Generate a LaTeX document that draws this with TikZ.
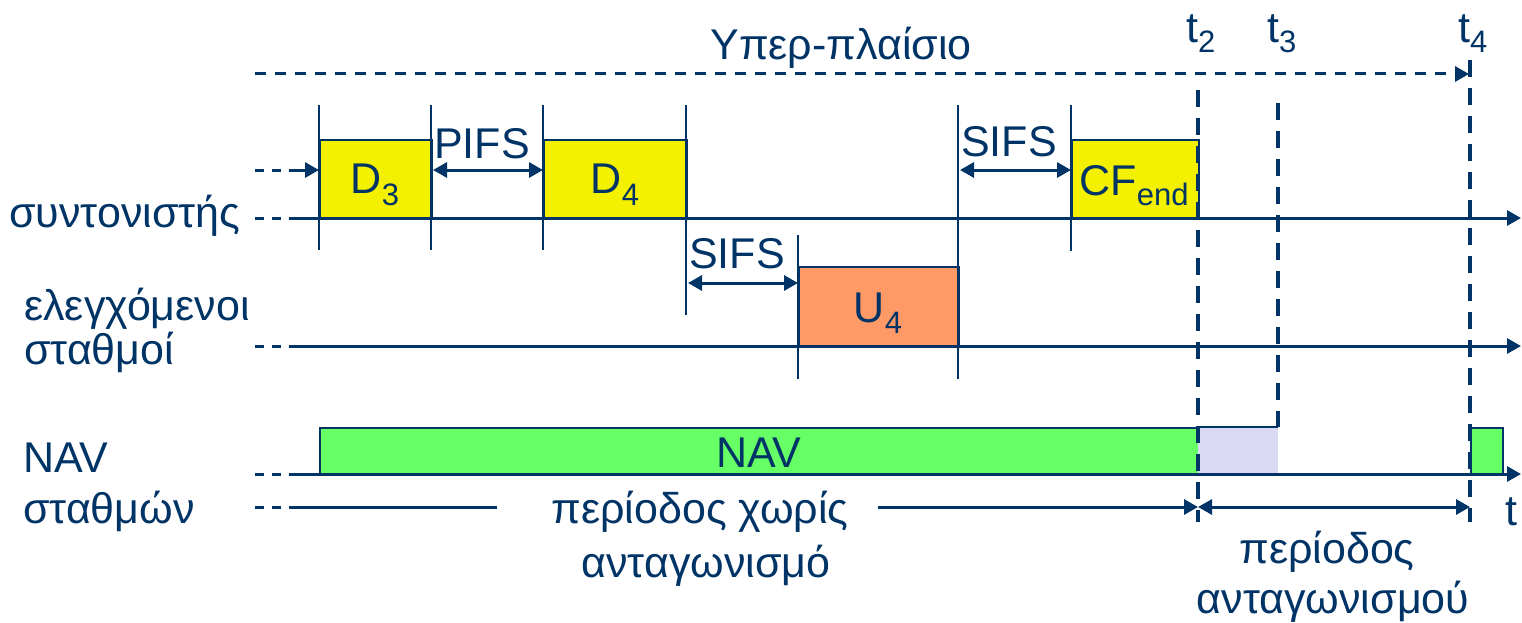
\documentclass[tikz,border=0pt]{standalone}
\usepackage{fontspec}
\setmainfont{Liberation Sans}
\usetikzlibrary{arrows.meta}
\definecolor{navy}{RGB}{0,51,102}
\definecolor{yel}{RGB}{243,240,0}
\definecolor{org}{RGB}{255,153,102}
\definecolor{grn}{RGB}{102,255,102}
\definecolor{lav}{RGB}{218,218,245}
\newcommand\sbs[2][-12pt]{\raisebox{#1}{\fontsize{31}{31}\selectfont #2}}
\begin{document}
\begin{tikzpicture}[x=1pt,y=-1pt,
  txt/.style={inner sep=0pt, text=navy, font=\fontsize{43}{50}\selectfont},
  hline/.style={draw=navy, line width=3pt},
  stubline/.style={draw=navy, line width=3pt, dash pattern=on 9pt off 8pt},
  tkline/.style={draw=navy, line width=2pt},
  vdash/.style={draw=navy, line width=4pt, dash pattern=on 17pt off 11pt},
  topdash/.style={draw=navy, line width=3pt, dash pattern=on 11pt off 9pt},
  arrtip/.style={-{Triangle[length=14pt,width=15pt]}},
  dblarr/.style={{Triangle[length=14pt,width=15pt]}-{Triangle[length=14pt,width=15pt]}},
  boxst/.style={draw=navy, line width=2pt, inner sep=0pt, anchor=north west}
]
\useasboundingbox (0,0) rectangle (1522,623);

% boxes
\node[boxst, fill=yel, minimum width=112pt, minimum height=79pt] (d3) at (319,139) {};
\node[boxst, fill=yel, minimum width=143pt, minimum height=79pt] (d4) at (543,139) {};
\node[boxst, fill=yel, minimum width=127pt, minimum height=79pt] (cf) at (1071,139) {};
\node[boxst, fill=org, minimum width=160pt, minimum height=80pt] (u4) at (798,266) {};
\node[boxst, fill=grn, minimum width=879pt, minimum height=47pt] (nav) at (319,427) {};
\fill[lav] (1198,427) rectangle (1278,474);
\draw[tkline] (1198,427) -- (1278,427);
\node[boxst, fill=grn, minimum width=32pt, minimum height=47pt] (nav2) at (1470,427) {};

% ticks
\draw[tkline] (319,105) -- (319,250);
\draw[tkline] (431,105) -- (431,250);
\draw[tkline] (543,105) -- (543,250);
\draw[tkline] (686,105) -- (686,315);
\draw[tkline] (798,235) -- (798,379);
\draw[tkline] (958,105) -- (958,379);
\draw[tkline] (1071,105) -- (1071,251);

% time lines
\coordinate (r1s) at (255,218); \coordinate (r1a) at (297,218); \coordinate (r1e) at (1521,218);
\coordinate (r2s) at (255,346); \coordinate (r2a) at (297,346); \coordinate (r2e) at (1521,346);
\coordinate (r3s) at (255,474); \coordinate (r3a) at (297,474); \coordinate (r3e) at (1521,474);
\draw[stubline] (r1s) -- (r1a);
\draw[hline, arrtip] (r1a) -- (r1e);
\draw[stubline] (r2s) -- (r2a);
\draw[hline, arrtip] (r2a) -- (r2e);
\draw[stubline] (r3s) -- (r3a);
\draw[hline, arrtip] (r3a) -- (r3e);

% entrance arrow to D3
\coordinate (ins) at (255,170); \coordinate (ina) at (297,170);
\draw[stubline] (ins) -- (ina);
\draw[hline, arrtip] (ina) -- (d3.west |- ina);

% interframe spaces
\coordinate (pifsy) at (0,170);
\draw[hline, dblarr] (d3.east |- pifsy) -- (d4.west |- pifsy);
\coordinate (sifsby) at (0,283);
\draw[hline, dblarr] (d4.east |- sifsby) -- (u4.west |- sifsby);
\draw[hline, dblarr] (u4.east |- pifsy) -- (cf.west |- pifsy);

% dashed verticals
\draw[vdash] (1198,90) -- (1198,522);
\draw[vdash] (1278,103) -- (1278,427);
\draw[vdash] (1470,60) -- (1470,522);

% superframe
\coordinate (sfs) at (255,74); \coordinate (sfe) at (1469,74);
\draw[topdash, arrtip] (sfs) -- (sfe);

% bottom period arrows
\coordinate (b0) at (255,507); \coordinate (b1) at (297,507); \coordinate (b2) at (497,507);
\coordinate (b3) at (878,507); \coordinate (b4) at (1198,507); \coordinate (b5) at (1470,507);
\draw[stubline] (b0) -- (b1);
\draw[hline] (b1) -- (b2);
\draw[hline, arrtip] (b3) -- (b4);
\draw[hline, dblarr] (b4) -- (b5);

% labels
\node[txt, anchor=base west] (l1) at (9,227) {συντονιστής};
\node[txt, anchor=base west] (l2) at (24,320) {ελεγχόμενοι};
\node[txt, anchor=base west] (l3) at (24,364) {σταθμοί};
\node[txt, anchor=base west] (l4) at (23,472) {NAV};
\node[txt, anchor=base west] (l5) at (23,523) {σταθμών};
\node[txt, anchor=base] (sf) at (841,60) {Υπερ-πλαίσιο};
\node[txt, anchor=base west] (t2) at (1186,43) {t\sbs[-10pt]{2}};
\node[txt, anchor=base west] (t3) at (1267,43) {t\sbs[-10pt]{3}};
\node[txt, anchor=base west] (t4) at (1458,43) {t\sbs[-10pt]{4}};
\node[txt, anchor=base] (pifs) at (482,158) {PIFS};
\node[txt, anchor=base] (sifs1) at (1009,157) {SIFS};
\node[txt, anchor=base] (sifs2) at (737,268) {SIFS};
\node[txt, anchor=base] (d3t) at (375,193) {D\sbs{3}};
\node[txt, anchor=base] (d4t) at (615,193) {D\sbs{4}};
\node[txt, anchor=base] (u4t) at (878,322) {U\sbs[-11pt]{4}};
\node[txt, anchor=base] (cft) at (1134,195) {CF\sbs[-10pt]{end}};
\node[txt, anchor=base] (navt) at (759,467) {NAV};
\node[txt, anchor=base] (p1) at (700,523) {περίοδος χωρίς};
\node[txt, anchor=base] (p2) at (706,577) {ανταγωνισμό};
\node[txt, anchor=base] (p3) at (1327,563) {περίοδος};
\node[txt, anchor=base] (p4) at (1333,613) {ανταγωνισμού};
\node[txt, anchor=base west] (tt) at (1505,525) {t};
\end{tikzpicture}
\end{document}
